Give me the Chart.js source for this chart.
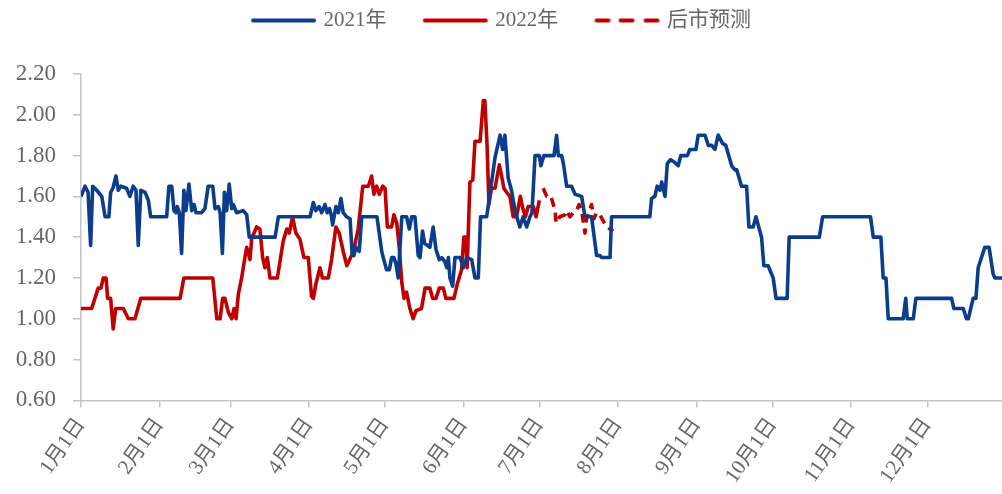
<!DOCTYPE html>
<html>
<head>
<meta charset="utf-8">
<script src="https://cdn.jsdelivr.net/npm/chart.js@4/dist/chart.umd.min.js"></script>
<style>
  html, body { margin: 0; padding: 0; background: #fff; }
  #wrap { width: 1002px; height: 494px; }
</style>
</head>
<body>
<div id="wrap"><canvas id="priceChart"></canvas></div>
<script>
// day of year (0 = 1月1日) and price
const days2021 = [0, 1.6, 2.8, 3.8, 4.6, 6.2, 8.2, 9.5, 11, 11.7, 12.6, 13.8, 14.7, 15.7, 18, 19.3, 20.6, 21.7, 22.6, 23.6,
  25.3, 26.6, 27.5, 33.8, 34.7, 35.8, 36.7, 37.5, 38, 38.8, 39.7, 40.6, 41.4, 42.6, 43.7, 44.6, 45.4, 47.6, 48.9, 50.2,
  52, 52.9, 54.2, 54.9, 55.8, 56.6, 57.5, 58.5, 59.5, 60.1, 61.4, 64, 65.4, 66.4, 76.6, 77.9, 90.4, 91.7, 92.7, 94,
  95, 96.3, 97.2, 98.1, 98.9, 99.3, 100.6, 101.6, 102.6, 103.5, 104.8, 106.2, 107, 107.7, 108.5, 109.8, 110.8, 116.8, 118.7, 119.3,
  120.6, 121.7, 122.6, 123.5, 124.3, 125.2, 126.6, 128.5, 129.6, 130.5, 131.8, 133.1, 133.8, 134.8, 135.6, 137.7, 139, 140.1, 141.4, 142.4,
  143.6, 144.4, 145, 145.6, 146.7, 147.6, 149.6, 150.9, 152.2, 154.2, 155.5, 156.8, 157.7, 160.1, 161.4, 163.4, 165.4, 166.4, 167.3, 168.6,
  169.9, 171.3, 173.2, 174.5, 175.9, 177.2, 178, 179.2, 180.9, 181.5, 182.7, 186.7, 187.7, 188.4, 189.7, 190.4, 191.7, 193.6, 195, 197.6,
  198.9, 201.5, 203.5, 204.8, 205.5, 208.8, 209.4, 224.5, 225.2, 226.5, 227.4, 228.5, 229.2, 230.5, 231.4, 232.7, 234, 235.7, 236.7, 239.3,
  240.3, 242.7, 243.6, 246.3, 247.6, 248.9, 250.2, 251.5, 253.2, 254.5, 256.8, 258.1, 258.8, 260.7, 262.7, 263.6, 265.3, 266.4, 268.6, 269.5,
  271.2, 273.2, 274.3, 278.7, 279.5, 291.4, 292.7, 311.6, 312.7, 315.7, 316.6, 317.7, 318.6, 324.5, 325.5, 326.1, 328.5, 329.5, 343.6, 344.5,
  348.2, 349.5, 350.2, 352.1, 353.2, 354.1, 356.7, 358.4, 360, 360.7, 363.5];
const vals2021 = [1.60, 1.65, 1.62, 1.36, 1.65, 1.63, 1.60, 1.50, 1.50, 1.62, 1.64, 1.70, 1.63, 1.65, 1.64, 1.60, 1.65, 1.63, 1.36, 1.63,
  1.62, 1.58, 1.50, 1.50, 1.65, 1.65, 1.53, 1.52, 1.55, 1.52, 1.32, 1.63, 1.53, 1.66, 1.53, 1.56, 1.52, 1.52, 1.54, 1.65,
  1.65, 1.54, 1.55, 1.52, 1.32, 1.62, 1.53, 1.66, 1.54, 1.56, 1.52, 1.53, 1.51, 1.40, 1.40, 1.50, 1.50, 1.57, 1.53, 1.55,
  1.52, 1.56, 1.52, 1.54, 1.50, 1.46, 1.55, 1.52, 1.59, 1.52, 1.50, 1.49, 1.32, 1.31, 1.35, 1.33, 1.50, 1.50, 1.33, 1.30,
  1.24, 1.24, 1.30, 1.30, 1.27, 1.20, 1.50, 1.50, 1.44, 1.50, 1.50, 1.31, 1.30, 1.43, 1.37, 1.35, 1.45, 1.34, 1.29, 1.30,
  1.28, 1.25, 1.30, 1.20, 1.16, 1.30, 1.30, 1.25, 1.30, 1.29, 1.20, 1.20, 1.50, 1.50, 1.61, 1.79, 1.90, 1.83, 1.90, 1.69,
  1.63, 1.53, 1.45, 1.50, 1.45, 1.50, 1.52, 1.80, 1.80, 1.75, 1.80, 1.80, 1.90, 1.80, 1.80, 1.76, 1.65, 1.65, 1.61, 1.60,
  1.50, 1.50, 1.31, 1.31, 1.30, 1.30, 1.50, 1.50, 1.59, 1.60, 1.65, 1.63, 1.67, 1.60, 1.76, 1.78, 1.77, 1.75, 1.80, 1.80,
  1.83, 1.83, 1.90, 1.90, 1.85, 1.85, 1.83, 1.90, 1.86, 1.85, 1.75, 1.73, 1.73, 1.65, 1.65, 1.45, 1.45, 1.50, 1.40, 1.26,
  1.26, 1.20, 1.10, 1.10, 1.40, 1.40, 1.50, 1.50, 1.40, 1.40, 1.20, 1.20, 1.00, 1.00, 1.10, 1.00, 1.00, 1.10, 1.10, 1.05,
  1.05, 1.00, 1.00, 1.10, 1.10, 1.25, 1.35, 1.35, 1.22, 1.20, 1.20];

const days2022 = [0, 4.2, 5.5, 6.8, 7.9, 8.8, 9.9, 10.5, 11.7, 12.7, 13.7, 16.7, 18.7, 21.3, 23.6, 39.1, 40.6, 52, 53.6, 54.9,
  55.9, 56.8, 58.2, 59.5, 60.4, 61.2, 62.1, 63.4, 64.7, 65.4, 66.7, 67.4, 68.3, 69.3, 70.6, 71.7, 72.6, 73.5, 74.6, 77.5,
  79.8, 81.2, 82.2, 83.5, 84.8, 86.4, 88, 89.7, 91, 91.7, 92.7, 94.3, 95.3, 97.6, 98.9, 100.6, 101.9, 103.5, 104.9, 107.5,
  109.4, 111.2, 113.4, 114.7, 115.6, 116.7, 117.7, 119.1, 120, 120.9, 122.6, 123.5, 124.6, 125.6, 126.6, 127.5, 128.5, 129.8, 131.1, 132.2,
  134.4, 135.8, 137.7, 138.8, 140.1, 141.4, 143, 144, 147.2, 148.5, 150.2, 151.1, 151.9, 152.4, 153.5, 154.6, 155.5, 157.5, 158.8, 159.4,
  160.3, 161, 162, 163.4, 165.1, 166, 166.9, 168, 169.3, 170.6, 171.9, 173.4, 174.4, 175.4, 176.5, 178.5, 179.6, 180.9];
const vals2022 = [1.05, 1.05, 1.10, 1.15, 1.15, 1.20, 1.20, 1.10, 1.10, 0.95, 1.05, 1.05, 1.00, 1.00, 1.10, 1.10, 1.20, 1.20, 1.00, 1.00,
  1.10, 1.10, 1.03, 1.00, 1.05, 1.00, 1.12, 1.20, 1.30, 1.35, 1.29, 1.40, 1.42, 1.45, 1.44, 1.30, 1.25, 1.30, 1.20, 1.20,
  1.38, 1.44, 1.42, 1.50, 1.42, 1.39, 1.30, 1.30, 1.11, 1.10, 1.17, 1.25, 1.20, 1.20, 1.29, 1.45, 1.42, 1.33, 1.26, 1.33,
  1.44, 1.65, 1.65, 1.70, 1.61, 1.65, 1.61, 1.65, 1.64, 1.45, 1.45, 1.51, 1.47, 1.35, 1.18, 1.10, 1.13, 1.05, 1.00, 1.04,
  1.05, 1.15, 1.15, 1.10, 1.10, 1.15, 1.15, 1.10, 1.10, 1.17, 1.24, 1.40, 1.40, 1.25, 1.67, 1.68, 1.87, 1.87, 2.07, 2.07,
  1.84, 1.56, 1.64, 1.64, 1.755, 1.70, 1.64, 1.62, 1.60, 1.50, 1.50, 1.60, 1.54, 1.50, 1.55, 1.55, 1.50, 1.58];

const daysFcst = [182.4, 183.8, 185.5, 187.1, 187.5, 189, 191, 191.7, 193, 194.3, 195.6, 196.6, 197.7, 198.9, 199.6, 200.2, 201.5, 202.4, 203.5, 204.8,
  207.4, 210.1];
const valsFcst = [1.64, 1.60, 1.60, 1.53, 1.47, 1.50, 1.51, 1.53, 1.50, 1.52, 1.53, 1.56, 1.52, 1.42, 1.50, 1.51, 1.56, 1.49, 1.52, 1.51,
  1.45, 1.43];

const monthTicks = [0, 31, 59, 90, 120, 151, 181, 212, 243, 273, 304, 334];
const monthLabels = ["1月1日", "2月1日", "3月1日", "4月1日", "5月1日", "6月1日", "7月1日", "8月1日", "9月1日", "10月1日", "11月1日", "12月1日"];

const seriesNames = ["2021年", "2022年", "后市预测"];
const blue = "#0a3d8c";
const red = "#c00000";
const axisGray = "#c4c4c4";
const textGray = "#666666";
const fontFam = "'Liberation Serif', 'Times New Roman', 'Noto Sans CJK SC', serif";

function toPoints(xs, ys) {
    return xs.map((d, i) => ({x: d, y: ys[i]}));
}

// legend swatch: a short line, solid or dashed
function swatch(color, dashed) {
    let c = document.createElement('canvas');
    c.width = 74; c.height = 6;
    let g = c.getContext('2d');
    g.strokeStyle = color;
    g.lineWidth = 4;
    g.lineCap = 'round';
    g.beginPath();
    if (dashed) {
        [[8, 20], [32, 44], [57, 69]].forEach(s => { g.moveTo(s[0], 3); g.lineTo(s[1], 3); });
    } else {
        g.moveTo(8, 3); g.lineTo(69, 3);
    }
    g.stroke();
    return c;
}

// push the plot down below the legend
const legendGap = {
    id: 'legendGap',
    beforeInit(chart) {
        const fit = chart.legend.fit;
        chart.legend.fit = function() {
            fit.bind(chart.legend)();
            this.height += 33;
        };
    }
};

const lineBase = {
    pointRadius: 0,
    borderWidth: 3.6,
    tension: 0,
    borderJoinStyle: 'round',
    fill: false
};

new Chart(document.getElementById('priceChart'), {
    type: 'line',
    data: {
        datasets: [
            Object.assign({}, lineBase, {
                label: seriesNames[0],
                data: toPoints(days2021, vals2021),
                borderColor: blue, backgroundColor: blue,
                pointStyle: swatch(blue, false)
            }),
            Object.assign({}, lineBase, {
                label: seriesNames[1],
                data: toPoints(days2022, vals2022),
                borderColor: red, backgroundColor: red,
                pointStyle: swatch(red, false)
            }),
            Object.assign({}, lineBase, {
                label: seriesNames[2],
                data: toPoints(daysFcst, valsFcst),
                borderColor: red, backgroundColor: red,
                borderDash: [9, 6],
                pointStyle: swatch(red, true)
            })
        ]
    },
    plugins: [legendGap],
    options: {
        responsive: true,
        maintainAspectRatio: false,
        animation: false,
        layout: { padding: { left: 0, right: 0, top: 0, bottom: 0 } },
        plugins: {
            tooltip: { enabled: false },
            legend: {
                position: 'top',
                labels: {
                    usePointStyle: true,
                    pointStyleWidth: 62,
                    padding: 10,
                    color: textGray,
                    font: { size: 21, family: fontFam },
                    generateLabels: (chart) => {
                        let items = Chart.defaults.plugins.legend.labels.generateLabels(chart);
                        items.forEach((it, i) => { if (i < items.length - 1) it.text = it.text + '\u2003 '; });
                        return items;
                    }
                }
            }
        },
        scales: {
            x: {
                type: 'linear',
                min: 0,
                max: 363.5,
                afterBuildTicks: (axis) => { axis.ticks = monthTicks.map(v => ({value: v})); },
                afterFit: (axis) => { axis.paddingLeft = 0; },
                ticks: {
                    autoSkip: false,
                    minRotation: 55,
                    maxRotation: 55,
                    padding: 6,
                    color: textGray,
                    font: { size: 21, family: fontFam },
                    callback: (v) => monthLabels[monthTicks.indexOf(v)]
                },
                grid: { drawOnChartArea: false, color: axisGray, tickLength: 7, lineWidth: 1.5 },
                border: { color: axisGray, width: 1.5 }
            },
            y: {
                min: 0.6,
                max: 2.2,
                afterFit: (axis) => { axis.width = 81; },
                ticks: {
                    stepSize: 0.2,
                    padding: 17,
                    color: textGray,
                    font: { size: 23, family: fontFam },
                    callback: (v) => Number(v).toFixed(2)
                },
                grid: { drawOnChartArea: false, color: axisGray, tickLength: 8, lineWidth: 1.5 },
                border: { color: axisGray, width: 1.5 }
            }
        }
    }
});
</script>
</body>
</html>
